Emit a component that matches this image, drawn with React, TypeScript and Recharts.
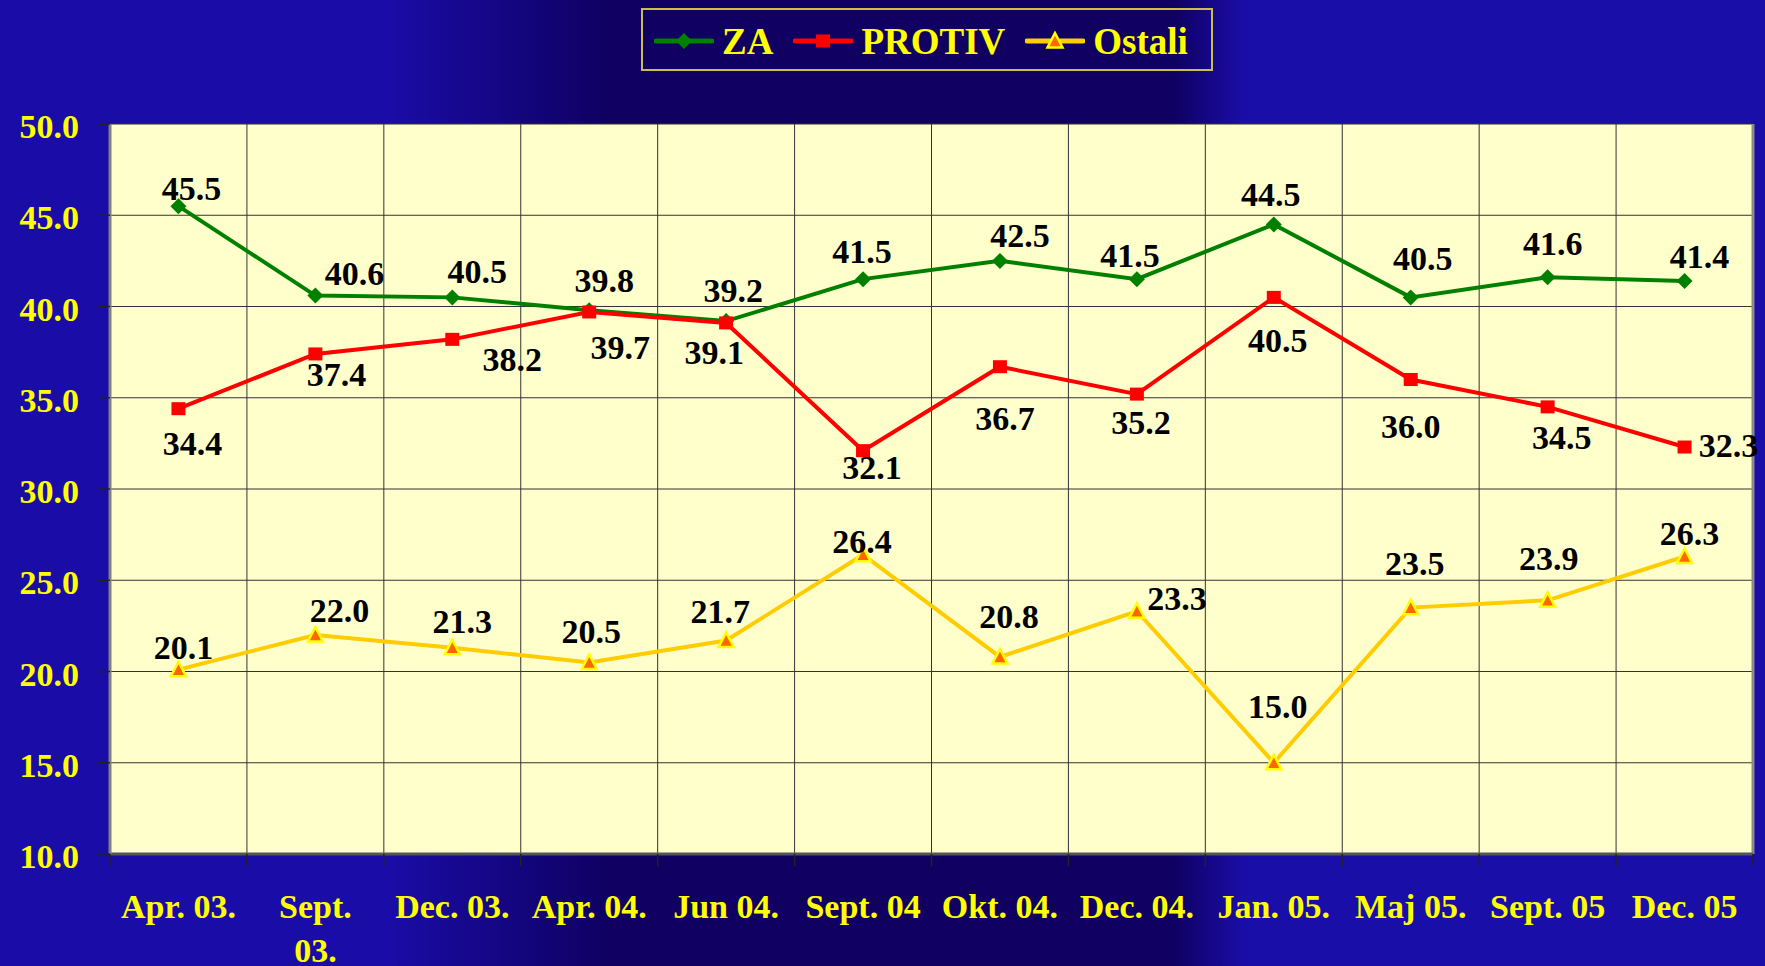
import React from 'react'
import { LineChart, Line, XAxis, YAxis, CartesianGrid, Legend, LabelList, ReferenceLine } from 'recharts'

const categories = [
  'Apr. 03.',
  'Sept. 03.',
  'Dec. 03.',
  'Apr. 04.',
  'Jun 04.',
  'Sept. 04',
  'Okt. 04.',
  'Dec. 04.',
  'Jan. 05.',
  'Maj 05.',
  'Sept. 05',
  'Dec. 05',
]
const za = [45.5, 40.6, 40.5, 39.8, 39.2, 41.5, 42.5, 41.5, 44.5, 40.5, 41.6, 41.4]
const protiv = [34.4, 37.4, 38.2, 39.7, 39.1, 32.1, 36.7, 35.2, 40.5, 36.0, 34.5, 32.3]
const ostali = [20.1, 22.0, 21.3, 20.5, 21.7, 26.4, 20.8, 23.3, 15.0, 23.5, 23.9, 26.3]
const yTicks = [10, 15, 20, 25, 30, 35, 40, 45, 50]

// where each value label sits relative to its point (label centre, px)
const zaLabelOffsets = [
  [13, -18], [39, -23], [25, -26], [15, -30], [7, -31], [-1, -28],
  [20, -26], [-7, -24], [-3, -30], [12, -39], [5, -34], [15, -25],
]
const protivLabelOffsets = [
  [14, 34], [21, 20], [60, 20], [31, 35], [-12, 29], [9, 16],
  [5, 51], [4, 28], [4, 43], [0, 46], [14, 30], [44, -2],
]
const ostaliLabelOffsets = [
  [5, -23], [24, -25], [10, -27], [2, -31], [-6, -29], [-1, -14],
  [9, -41], [40, -13], [4, -57], [4, -45], [1, -42], [5, -24],
]

const W = 1765
const H = 966
const MARGIN = { top: 124, right: 12, bottom: 0, left: 0 }
const Y_AXIS_W = 110
const X_AXIS_H = 112
const BAND = (W - MARGIN.right - Y_AXIS_W) / categories.length
const FONT = '"Times New Roman", "Liberation Serif", serif'
const YELLOW = '#FFFF00'
const BG =
  'linear-gradient(90deg, #1a0ca6 0%, #1a0ca6 22%, #0f0062 34.5%, #0f0062 66.5%, #1a0ea8 70.5%, #1a0ea8 100%)'

const rows = categories.map((name, i) => ({
  x: i + 0.5,
  name,
  za: za[i],
  protiv: protiv[i],
  ostali: ostali[i],
}))
const xTicks = categories.map((_, i) => i).concat(categories.length)

type Marker = 'diamond' | 'square' | 'triangle'

const series: { key: string; name: string; color: string; marker: Marker; offsets: number[][] }[] = [
  { key: 'za', name: 'ZA', color: '#008000', marker: 'diamond', offsets: zaLabelOffsets },
  { key: 'protiv', name: 'PROTIV', color: '#FF0000', marker: 'square', offsets: protivLabelOffsets },
  { key: 'ostali', name: 'Ostali', color: '#FFCC00', marker: 'triangle', offsets: ostaliLabelOffsets },
]

function markerShape(marker: Marker, cx: number, cy: number, color: string, key?: string) {
  if (marker === 'diamond') {
    return (
      <polygon
        key={key}
        points={`${cx},${cy - 8} ${cx + 8},${cy} ${cx},${cy + 8} ${cx - 8},${cy}`}
        fill={color}
      />
    )
  }
  if (marker === 'square') {
    return <rect key={key} x={cx - 7} y={cy - 6.5} width={14} height={13} fill={color} />
  }
  return (
    <polygon
      key={key}
      points={`${cx},${cy - 8} ${cx + 7.5},${cy + 6.5} ${cx - 7.5},${cy + 6.5}`}
      fill="#FF6600"
      stroke="#FFFF00"
      strokeWidth={2.5}
      strokeLinejoin="miter"
    />
  )
}

function XTick(props: any) {
  const { x, y, payload } = props
  const i = payload.value
  if (i >= categories.length) return null
  const label = categories[i]
  const lines = label.length > 8 ? label.split(' ') : [label]
  const cx = x + BAND / 2
  return (
    <text x={cx} y={y + 50} textAnchor="middle" fill={YELLOW} fontFamily={FONT} fontWeight="bold" fontSize={34}>
      {lines.map((l, k) => (
        <tspan key={k} x={cx} dy={k === 0 ? 0 : 44}>
          {l}
        </tspan>
      ))}
    </text>
  )
}

function YTick(props: any) {
  const { x, y, payload } = props
  return (
    <text x={x - 17} y={y + 14} textAnchor="end" fill={YELLOW} fontFamily={FONT} fontWeight="bold" fontSize={34}>
      {Number(payload.value).toFixed(1)}
    </text>
  )
}

function valueLabel(offsets: number[][]) {
  return (p: any) => {
    const px = p.viewBox?.x ?? p.x
    const py = p.viewBox?.y ?? p.y
    const [dx, dy] = offsets[p.index] || [0, -25]
    return (
      <text
        x={px + dx}
        y={py + dy + 12}
        textAnchor="middle"
        fill="#000"
        fontFamily={FONT}
        fontWeight="bold"
        fontSize={34}
      >
        {Number(p.value).toFixed(1)}
      </text>
    )
  }
}

function LegendBox() {
  return (
    <div
      style={{
        boxSizing: 'border-box',
        width: 572,
        height: 63,
        border: '2px solid #c9bd4c',
        display: 'flex',
        alignItems: 'center',
        paddingLeft: 11,
        paddingTop: 3,
        fontFamily: FONT,
        fontWeight: 'bold',
        fontSize: 37,
        color: YELLOW,
      }}
    >
      {series.map((s) => (
        <div key={s.key} style={{ display: 'flex', alignItems: 'center', marginRight: 20 }}>
          <svg width={60} height={20}>
            <line x1={2} y1={10} x2={58} y2={10} stroke={s.color} strokeWidth={5} strokeLinecap="round" />
            {markerShape(s.marker, 30, 10, s.color)}
          </svg>
          <span style={{ marginLeft: 8, lineHeight: 1 }}>{s.name}</span>
        </div>
      ))}
    </div>
  )
}

export default function App() {
  return (
    <div style={{ position: 'absolute', left: 0, top: 0, width: W, height: H, background: BG }}>
      <LineChart width={W} height={H} data={rows} margin={MARGIN}>
        <CartesianGrid stroke="#333" strokeWidth={1} fill="#FFFFCC" fillOpacity={1} />
        <XAxis
          type="number"
          dataKey="x"
          domain={[0, categories.length]}
          ticks={xTicks}
          interval={0}
          height={X_AXIS_H}
          tickSize={12}
          tick={<XTick />}
          tickLine={{ stroke: '#222', strokeWidth: 1.5 }}
          axisLine={{ stroke: '#555', strokeWidth: 3 }}
        />
        <YAxis
          domain={[10, 50]}
          ticks={yTicks}
          interval={0}
          width={Y_AXIS_W}
          tickSize={12}
          tick={<YTick />}
          tickLine={{ stroke: '#222', strokeWidth: 1.5 }}
          axisLine={{ stroke: '#808080', strokeWidth: 3 }}
        />
        <ReferenceLine x={categories.length} stroke="#8a8a8a" strokeWidth={3} />
        <Legend
          layout="horizontal"
          verticalAlign="middle"
          align="center"
          wrapperStyle={{ top: 8, left: 641, width: 572, height: 63 }}
          content={() => <LegendBox />}
        />
        {series.map((s) => (
          <Line
            key={s.key}
            type="linear"
            dataKey={s.key}
            name={s.name}
            stroke={s.color}
            strokeWidth={4}
            isAnimationActive={false}
            dot={(d: any) => markerShape(s.marker, d.cx, d.cy, s.color, `${s.key}-${d.index}`)}
            activeDot={false}
          >
            <LabelList dataKey={s.key} content={valueLabel(s.offsets)} />
          </Line>
        ))}
      </LineChart>
    </div>
  )
}
